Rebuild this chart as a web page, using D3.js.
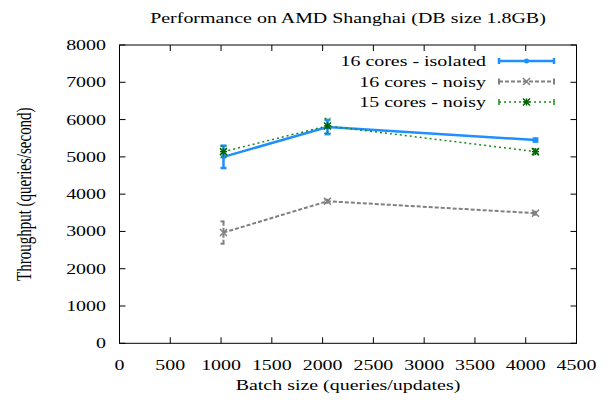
<!DOCTYPE html>
<html><head><meta charset="utf-8">
<script src="https://cdn.jsdelivr.net/npm/d3@7"></script>
<style>body{margin:0;background:#fff}</style>
</head><body><svg id="c" width="611" height="407"></svg>
<script>
const batchSizes = [1024, 2048, 4096];
const isolated16 = [5000, 5800, 5450];
const isolated16Err = [300, 190, 40];
const noisy16 = [2970, 3810, 3490];
const noisy16Err = [300, 40, 40];
const noisy15 = [5140, 5830, 5140];
const noisy15Err = [150, 200, 80];
const xTicks = [0,500,1000,1500,2000,2500,3000,3500,4000,4500];
const yTicks = [0,1000,2000,3000,4000,5000,6000,7000,8000];
const seriesNames = ["16 cores - isolated","16 cores - noisy","15 cores - noisy"];

const L=119.5,R=576.5,T=45,B=343.3;
const svg=d3.select("#c");
const x=d3.scaleLinear().domain([0,4500]).range([L,R]);
const y=d3.scaleLinear().domain([0,8000]).range([B,T]);
const FS=15, SX=1.33;
function txt(g,xp,yp,s,anchor,rot){
  const t=g.append("text").attr("font-family","Liberation Serif").attr("font-size",FS).attr("fill","#000").attr("text-anchor",anchor).text(s);
  t.attr("transform",`translate(${xp},${yp})${rot?` rotate(${rot})`:""} scale(${rot?1:SX},${rot?SX:1})`);
  return t;
}
const tk=6;
const ax=svg.append("g").attr("stroke","#000").attr("stroke-width",1);
xTicks.forEach(v=>{
  ax.append("line").attr("x1",x(v)).attr("x2",x(v)).attr("y1",B).attr("y2",B-tk);
  ax.append("line").attr("x1",x(v)).attr("x2",x(v)).attr("y1",T).attr("y2",T+tk);
});
yTicks.forEach(v=>{
  ax.append("line").attr("x1",L).attr("x2",L+tk).attr("y1",y(v)).attr("y2",y(v));
  ax.append("line").attr("x1",R).attr("x2",R-tk).attr("y1",y(v)).attr("y2",y(v));
});
ax.append("rect").attr("x",L).attr("y",T).attr("width",R-L).attr("height",B-T).attr("fill","none");
const lab=svg.append("g");
xTicks.forEach(v=>txt(lab,x(v),370,String(v),"middle"));
yTicks.forEach(v=>txt(lab,106,y(v)+5,String(v),"end"));
txt(lab,(L+R)/2,390,"Batch size (queries/updates)","middle");
txt(lab,31,(T+B)/2,"Throughput (queries/second)","middle",-90);
txt(lab,(L+R)/2,23,"Performance on AMD Shanghai (DB size 1.8GB)","middle");

const series=[
 {vals:isolated16,err:isolated16Err,color:"#1f8fff",w:2.5,dash:null,marker:"dot"},
 {vals:noisy16,err:noisy16Err,color:"#808080",w:2,dash:"4,2",marker:"x"},
 {vals:noisy15,err:noisy15Err,color:"#1a8a1a",w:1.5,dash:"2,3",marker:"star",mcolor:"#006400"}
];
function marker(g,cx,cy,type,color,w){
  const s=3.5;
  const m=g.append("g").attr("stroke",color).attr("stroke-width",w).attr("fill","none");
  if(type==="dot"){m.append("circle").attr("cx",cx).attr("cy",cy).attr("r",2.5).attr("fill",color).attr("stroke","none");}
  if(type==="x"||type==="star"){
    m.append("line").attr("x1",cx-s).attr("x2",cx+s).attr("y1",cy-s).attr("y2",cy+s);
    m.append("line").attr("x1",cx-s).attr("x2",cx+s).attr("y1",cy+s).attr("y2",cy-s);
  }
  if(type==="star"){
    m.append("line").attr("x1",cx-s).attr("x2",cx+s).attr("y1",cy).attr("y2",cy);
    m.append("line").attr("x1",cx).attr("x2",cx).attr("y1",cy-s).attr("y2",cy+s);
  }
}
const line=d3.line().x(d=>x(d[0])).y(d=>y(d[1]));
series.forEach((s,i)=>{
  const g=svg.append("g");
  const pts=batchSizes.map((b,j)=>[b,s.vals[j]]);
  g.append("path").attr("d",line(pts)).attr("fill","none").attr("stroke",s.color).attr("stroke-width",s.w).attr("stroke-dasharray",s.dash);
  pts.forEach((p,j)=>{
    const cx=x(p[0]);
    const e=g.append("g").attr("stroke",s.color).attr("stroke-width",s.w).attr("stroke-dasharray",s.dash);
    e.append("line").attr("x1",cx).attr("x2",cx).attr("y1",y(p[1]-s.err[j])).attr("y2",y(p[1]+s.err[j]));
    [p[1]-s.err[j],p[1]+s.err[j]].forEach(v=>e.append("line").attr("x1",cx-3).attr("x2",cx+3).attr("y1",y(v)).attr("y2",y(v)).attr("stroke-dasharray",null));
    marker(g,cx,y(p[1]),s.marker,s.mcolor||s.color,i===0?2:1.5);
  });
  const ly=61+i*20.5;
  txt(lab,486,ly+5,seriesNames[i],"end");
  const lg=svg.append("g").attr("stroke",s.color).attr("stroke-width",s.w);
  lg.append("line").attr("x1",499).attr("x2",554).attr("y1",ly).attr("y2",ly).attr("stroke-dasharray",s.dash);
  [499,554].forEach(xx=>lg.append("line").attr("x1",xx).attr("x2",xx).attr("y1",ly-3).attr("y2",ly+3));
  marker(svg,526.5,ly,s.marker,s.mcolor||s.color,i===0?2:1.5);
});
</script></body></html>
